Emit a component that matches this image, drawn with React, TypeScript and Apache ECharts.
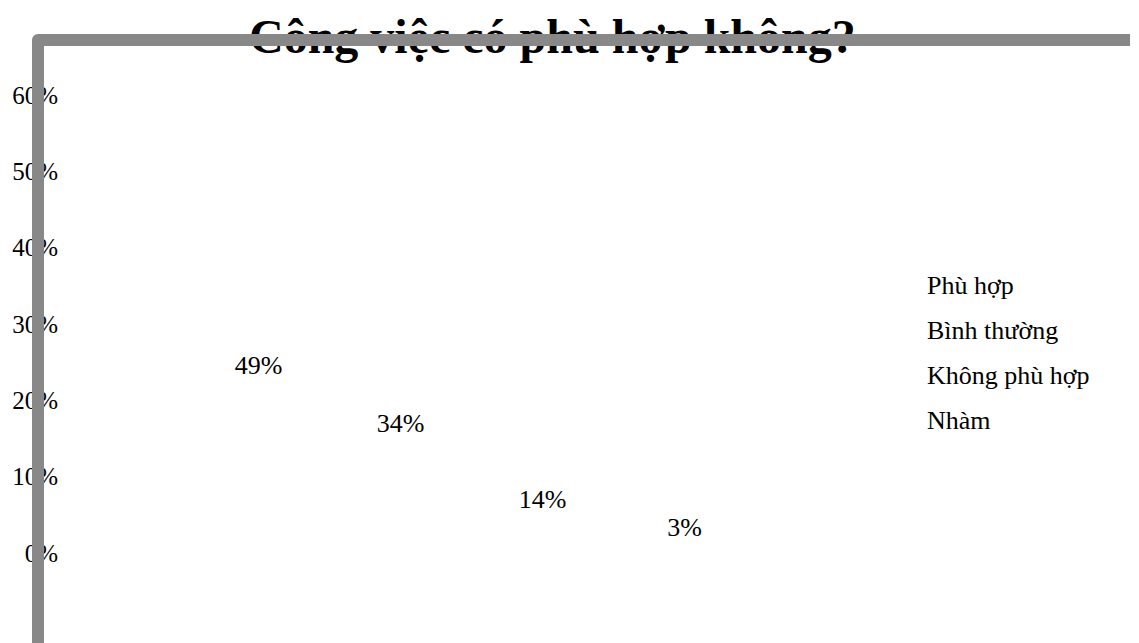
import React, { useEffect, useRef } from "react";
import * as echarts from "echarts";

const title = "Công việc có phù hợp không?";
const categories = [""];
const seriesNames = ["Phù hợp", "Bình thường", "Không phù hợp", "Nhàm"];
const seriesValues = [49, 34, 14, 3];
const yTicks = { min: 0, max: 60, interval: 10 };

const FONT = "'Liberation Serif', 'Times New Roman', serif";

export default function App() {
  const ref = useRef<HTMLDivElement>(null);
  useEffect(() => {
    if (!ref.current) return;
    const chart = echarts.init(ref.current, undefined, { renderer: "svg" });
    chart.setOption({
      animation: false,
      textStyle: { fontFamily: FONT },
      title: {
        text: title,
        left: 236,
        top: -1,
        textStyle: { fontFamily: FONT, fontSize: 48, fontWeight: "bold", color: "#000" },
      },
      legend: {
        orient: "vertical",
        left: 909,
        top: 259,
        icon: "none",
        itemWidth: 0,
        itemHeight: 25,
        itemGap: 19,
        selectedMode: false,
        data: seriesNames,
        textStyle: { fontFamily: FONT, fontSize: 26, color: "#000" },
      },
      grid: { left: 30, right: 242, top: 87, bottom: 98, containLabel: false },
      xAxis: {
        type: "category",
        data: categories,
        show: false,
      },
      yAxis: {
        type: "value",
        min: yTicks.min,
        max: yTicks.max,
        interval: yTicks.interval,
        axisLine: { show: false },
        axisTick: { show: false },
        splitLine: { show: false },
        axisLabel: {
          formatter: "{value}%",
          margin: -20,
          fontFamily: FONT,
          fontSize: 25,
          color: "#000",
        },
      },
      series: seriesNames.map((name, i) => ({
        name,
        type: "bar",
        data: [seriesValues[i]],
        barWidth: 100,
        barGap: "42%",
        itemStyle: { color: "transparent" },
        label: {
          show: true,
          position: "inside",
          formatter: "{c}%",
          fontFamily: FONT,
          fontSize: 26,
          color: "#000",
          offset: i === 3 ? [0, -14] : [0, 0],
        },
      })),
      graphic: [
        {
          type: "polyline",
          z: 100,
          shape: { points: [[30, 700], [30, 32], [1122, 32]] },
          style: { stroke: "#888888", lineWidth: 12, fill: "none", lineJoin: "round" },
        },
      ],
    });
    return () => chart.dispose();
  }, []);
  return <div ref={ref} style={{ width: 1139, height: 643 }} />;
}
